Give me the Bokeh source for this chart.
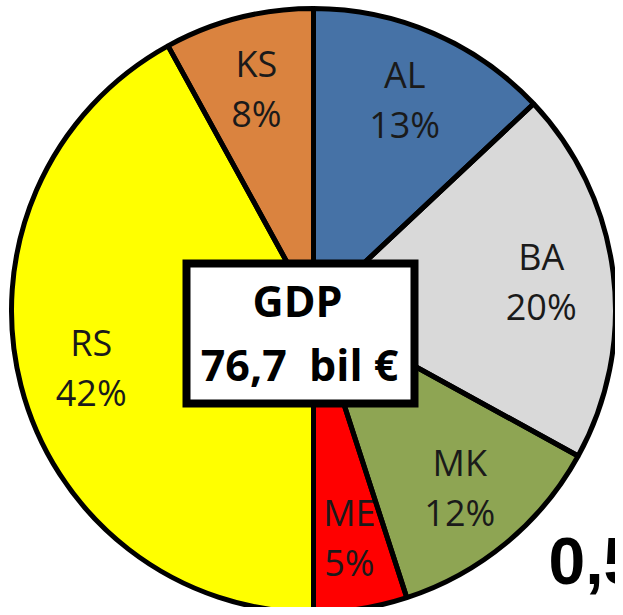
import numpy as np
from bokeh.plotting import figure
from bokeh.models import Range1d, ColumnDataSource
from bokeh.core.properties import value
from bokeh.embed import file_html
from bokeh.resources import INLINE

# ---- data ----
countries = ["AL", "BA", "MK", "ME", "RS", "KS"]
shares = [13, 20, 12, 5, 42, 8]
colors = ["#4672A6", "#D9D9D9", "#8EA553", "#FF0000", "#FFFF00", "#DA833F"]
center_title = "GDP"
center_value = "76,7\u00a0 bil €"
side_line1 = "0,5%"
side_line2 = "of EU"

# ---- layout (page pixel -> data: x = px, y = 615 - py) ----
W, H = 615, 607
p = figure(width=W, height=H, x_range=Range1d(0, 615), y_range=Range1d(8, 615),
           output_backend="svg", toolbar_location=None,
           x_axis_location=None, y_axis_location=None, min_border=0)
p.grid.visible = False
p.outline_line_color = None
p.background_fill_color = "white"
p.border_fill_color = "white"

cx, cy, R = 313, 305, 302

frac = np.array(shares, dtype=float) / sum(shares)
cum = np.concatenate([[0], np.cumsum(frac)])
theta1 = cum[:-1] * 2 * np.pi   # clockwise from top
theta2 = cum[1:] * 2 * np.pi
start = np.pi / 2 - theta1
end = np.pi / 2 - theta2
mid = (theta1 + theta2) / 2
lr = 0.76 * R
lx = cx + lr * np.sin(mid)
ly = cy + lr * np.cos(mid)

src = ColumnDataSource(dict(start=start, end=end, color=colors,
                            name=countries, pct=[f"{s}%" for s in shares],
                            lx=lx, ly_top=ly + 25, ly_bot=ly - 25))

p.wedge(x=cx, y=cy, radius=R, start_angle="start", end_angle="end",
        direction="clock", fill_color="color", line_color=None, source=src)

p.text(x="lx", y="ly_top", text="name", source=src, text_align="center",
       text_baseline="middle", text_font=value("Open Sans"),
       text_font_size="36px", text_color="#1a1a1a")
p.text(x="lx", y="ly_bot", text="pct", source=src, text_align="center",
       text_baseline="middle", text_font=value("Open Sans"),
       text_font_size="36px", text_color="#1a1a1a")

p.wedge(x=cx, y=cy, radius=R, start_angle="start", end_angle="end",
        direction="clock", fill_color=None, line_color="black", line_width=5,
        source=src)

# center box
p.rect(x=300, y=282, width=228, height=140, fill_color="white",
       line_color="black", line_width=8, line_join="miter")
p.text(x=[297], y=[315], text=[center_title], text_align="center",
       text_baseline="middle", text_font=value("Open Sans"),
       text_font_style="bold", text_font_size="43px", text_color="black")
p.text(x=[299], y=[251], text=[center_value], text_align="center",
       text_baseline="middle", text_font=value("Open Sans"),
       text_font_style="bold", text_font_size="43px", text_color="black")

# side text (cut off by page edge)
p.text(x=[548], y=[55], text=[side_line1], text_align="left",
       text_baseline="alphabetic", text_font=value("Liberation Sans"),
       text_font_style="bold", text_font_size="66px", text_color="black")
p.text(x=[530], y=[-31], text=[side_line2], text_align="left",
       text_baseline="alphabetic", text_font=value("Liberation Sans"),
       text_font_style="bold", text_font_size="66px", text_color="black")

open("out.html", "w").write(file_html(p, INLINE))
